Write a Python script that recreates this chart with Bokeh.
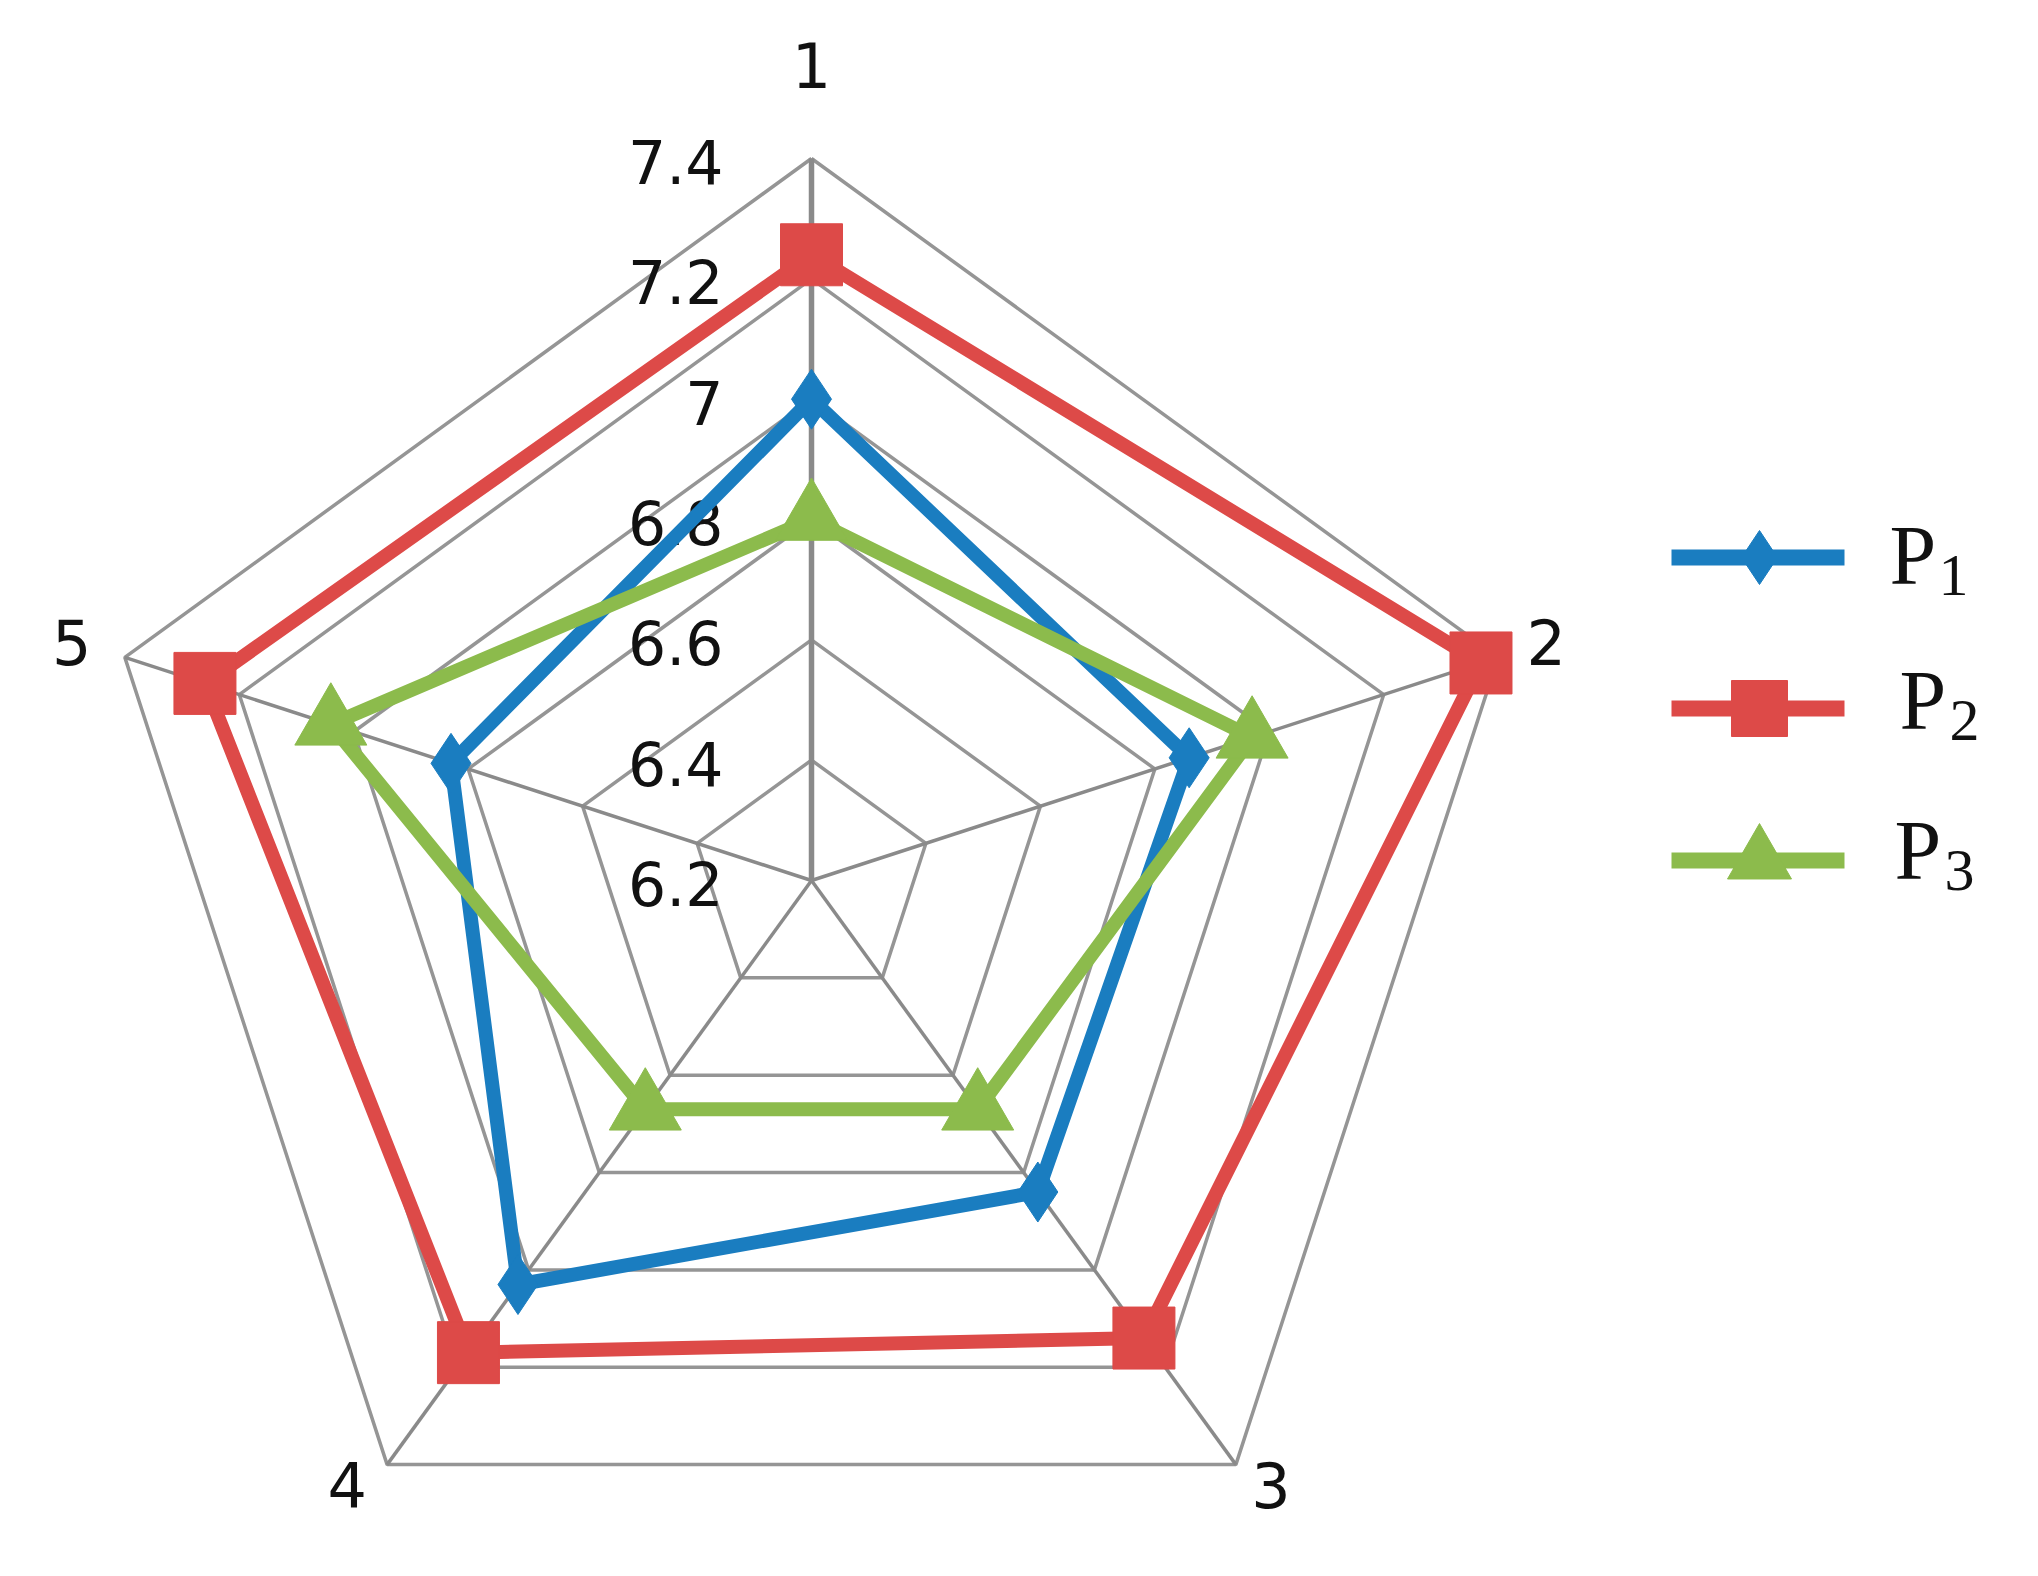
import math
from bokeh.plotting import figure
from bokeh.models import Range1d, ColumnDataSource
from bokeh.embed import file_html
from bokeh.resources import INLINE
from bokeh.core.properties import value

# ---------------- data ----------------
categories = ["1", "2", "3", "4", "5"]
tick_values = [6.2, 6.4, 6.6, 6.8, 7.0, 7.2, 7.4]
tick_labels = ["6.2", "6.4", "6.6", "6.8", "7", "7.2", "7.4"]
series_names = ["P", "P", "P"]
series_subs = ["1", "2", "3"]
p1 = [7.00, 6.86, 6.84, 7.03, 6.83]
p2 = [7.24, 7.37, 7.14, 7.17, 7.26]
p3 = [6.80, 6.97, 6.67, 6.67, 7.04]

# ---------------- layout / style ----------------
W, H = 2020, 1558
GX, GY = 7, 4              # global pixel shift
CX, CY = 804 + GX, 876 + GY  # radar centre in plot pixels
R = 722                    # outer radius in pixels
VMIN, VMAX = tick_values[0], tick_values[-1]
S = R / (VMAX - VMIN)      # pixels per value unit

colors = ["#1a7dc0", "#dd4a48", "#8cbb4c"]
markers = ["diamond", "square", "triangle"]
msizes = [60, 62, 72]
LW = 14

p = figure(width=W, height=H, output_backend="svg", toolbar_location=None,
           x_axis_type=None, y_axis_type=None, min_border=0,
           x_range=Range1d(-CX / S, (W - CX) / S),
           y_range=Range1d(-(H - CY) / S, CY / S))
p.grid.visible = False
p.outline_line_color = None
p.background_fill_color = "white"
p.border_fill_color = "white"

n = len(categories)
angles = [math.pi / 2 - 2 * math.pi * k / n for k in range(n)]


def polar(vals):
    xs = [(v - VMIN) * math.cos(a) for v, a in zip(vals, angles)]
    ys = [(v - VMIN) * math.sin(a) for v, a in zip(vals, angles)]
    return xs, ys


# grid rings
for tv in tick_values[1:]:
    xs, ys = polar([tv] * n)
    p.line(xs + xs[:1], ys + ys[:1], line_color="#959595", line_width=3.5)

# spokes
ox, oy = polar([VMAX] * n)
p.segment(x0=[0] * n, y0=[0] * n, x1=ox, y1=oy, line_color="#8a8a8a",
          line_width=[5.5, 3.5, 3.5, 3.5, 3.5])

# tick labels along axis 1
p.text(x=[-88 / S] * len(tick_values), y=[tv - VMIN for tv in tick_values],
       text=tick_labels, text_align="right", text_baseline="middle", y_offset=3,
       text_font=value("DejaVu Sans"), text_font_size="60px", text_color="#111111")

# category labels
cat_src = ColumnDataSource(dict(x=ox, y=oy, text=categories,
                                dx=[0, 48, 35, -40, -53], dy=[-94, -15, 20, 20, -15]))
p.text(x="x", y="y", text="text", x_offset="dx", y_offset="dy", source=cat_src,
       text_align="center", text_baseline="middle",
       text_font=value("DejaVu Sans"), text_font_size="62px", text_color="#111111")

# series
for vals, c, m, ms in zip([p1, p2, p3], colors, markers, msizes):
    xs, ys = polar(vals)
    p.line(xs + xs[:1], ys + ys[:1], line_color=c, line_width=LW, line_join="round")
    p.scatter(xs, ys, marker=m, size=ms, fill_color=c, line_color=c)


# legend (manual)
def dx(px):
    return (px + GX - CX) / S


def dy(py):
    return (CY - py - GY) / S


leg_y = [553, 704, 856]
for i, (c, m, ms) in enumerate(zip(colors, markers, msizes)):
    yy = dy(leg_y[i])
    p.line([dx(1664), dx(1837)], [yy, yy], line_color=c, line_width=LW + 2)
    p.scatter([dx(1752)], [yy], marker=m, size=[54, 56, 64][i], fill_color=c, line_color=c)

p.text(x=[dx(1882), dx(1892), dx(1887)], y=[dy(v) for v in [551, 696, 846]], text=series_names,
       text_align="left", text_baseline="middle",
       text_font=value("Liberation Serif"), text_font_size="84px", text_color="#111111")
p.text(x=[dx(1931), dx(1942), dx(1937)], y=[dy(v) for v in [571, 716, 866]], text=series_subs,
       text_align="left", text_baseline="middle",
       text_font=value("Liberation Serif"), text_font_size="60px", text_color="#111111")

open("out.html", "w").write(file_html(p, INLINE))
